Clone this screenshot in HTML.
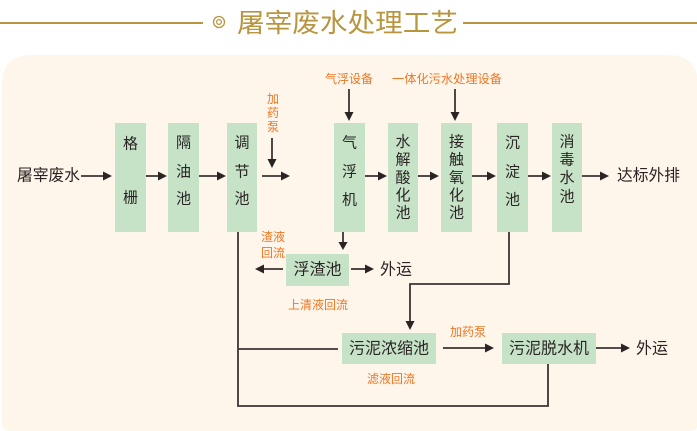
<!DOCTYPE html>
<html>
<head>
<meta charset="utf-8">
<style>
  html,body{margin:0;padding:0;background:#ffffff;}
  body{width:697px;height:431px;overflow:hidden;}
  svg{display:block;}
  text{font-family:"Liberation Sans","Noto Sans CJK SC",sans-serif;}
  .bx{fill:#c6e3c8;}
  .t{fill:#2a2424;font-size:15px;}
  .m{fill:#2a2424;font-size:16px;}
  .o{fill:#ee7624;font-size:12px;}
  .ln{stroke:#3a3434;stroke-width:1.8;fill:none;}
  .ah{fill:#2a2424;}
</style>
</head>
<body>
<svg width="697" height="431" viewBox="0 0 697 431" xmlns="http://www.w3.org/2000/svg">
  <!-- title -->
  <line x1="0" y1="23" x2="203" y2="23" stroke="#b9953f" stroke-width="2"/>
  <line x1="463" y1="23" x2="697" y2="23" stroke="#b9953f" stroke-width="2"/>
  <circle cx="219" cy="22" r="5.5" fill="none" stroke="#b9953f" stroke-width="1.3"/>
  <circle cx="219" cy="22" r="2.4" fill="none" stroke="#b9953f" stroke-width="1.2"/>
  <text x="237" y="23" dominant-baseline="central" font-size="26" fill="#b9953f" textLength="221" lengthAdjust="spacingAndGlyphs">屠宰废水处理工艺</text>

  <!-- panel -->
  <path d="M2,85 Q2,55 32,55 L668,55 Q698,55 698,85 L698,423 Q698,431 690,431 L10,431 Q2,431 2,423 Z" fill="#fef6eb"/>

  <!-- top labels -->
  <text class="o" x="325" y="79" dominant-baseline="central" textLength="48" lengthAdjust="spacingAndGlyphs">气浮设备</text>
  <text class="o" x="392" y="79" dominant-baseline="central" textLength="110" lengthAdjust="spacingAndGlyphs">一体化污水处理设备</text>
  <text class="o" x="273" y="99" text-anchor="middle" dominant-baseline="central">加</text>
  <text class="o" x="273" y="113" text-anchor="middle" dominant-baseline="central">药</text>
  <text class="o" x="273" y="127" text-anchor="middle" dominant-baseline="central">泵</text>

  <!-- vertical input arrows -->
  <line class="ln" x1="349" y1="89" x2="349" y2="113"/>
  <polygon class="ah" points="344.5,112 353.5,112 349,121"/>
  <line class="ln" x1="455" y1="89" x2="455" y2="113"/>
  <polygon class="ah" points="450.5,112 459.5,112 455,121"/>
  <line class="ln" x1="272" y1="138" x2="272" y2="160"/>
  <polygon class="ah" points="267.5,159 276.5,159 272,168"/>

  <!-- main boxes -->
  <rect class="bx" x="115" y="123" width="31" height="109"/>
  <rect class="bx" x="168" y="123" width="31" height="109"/>
  <rect class="bx" x="227" y="123" width="30" height="109"/>
  <rect class="bx" x="334" y="123" width="31" height="109"/>
  <rect class="bx" x="388" y="123" width="30" height="109"/>
  <rect class="bx" x="441" y="123" width="31" height="109"/>
  <rect class="bx" x="497" y="123" width="31" height="109"/>
  <rect class="bx" x="552" y="123" width="30" height="109"/>

  <!-- box text -->
  <g text-anchor="middle" dominant-baseline="central">
    <text class="t" x="130.5" y="144">格</text>
    <text class="t" x="130.5" y="198">栅</text>

    <text class="t" x="183.5" y="143">隔</text>
    <text class="t" x="183.5" y="172">油</text>
    <text class="t" x="183.5" y="199">池</text>

    <text class="t" x="242" y="143">调</text>
    <text class="t" x="242" y="172">节</text>
    <text class="t" x="242" y="199">池</text>

    <text class="t" x="349.5" y="143">气</text>
    <text class="t" x="349.5" y="172">浮</text>
    <text class="t" x="349.5" y="200">机</text>

    <text class="t" x="403" y="142">水</text>
    <text class="t" x="403" y="160">解</text>
    <text class="t" x="403" y="178">酸</text>
    <text class="t" x="403" y="195.5">化</text>
    <text class="t" x="403" y="213">池</text>

    <text class="t" x="456.5" y="142">接</text>
    <text class="t" x="456.5" y="160">触</text>
    <text class="t" x="456.5" y="178">氧</text>
    <text class="t" x="456.5" y="195.5">化</text>
    <text class="t" x="456.5" y="213">池</text>

    <text class="t" x="512.5" y="143">沉</text>
    <text class="t" x="512.5" y="172">淀</text>
    <text class="t" x="512.5" y="200">池</text>

    <text class="t" x="567" y="142">消</text>
    <text class="t" x="567" y="160">毒</text>
    <text class="t" x="567" y="178">水</text>
    <text class="t" x="567" y="197">池</text>
  </g>

  <!-- main flow text -->
  <text class="m" x="17" y="176" dominant-baseline="central" textLength="63" lengthAdjust="spacingAndGlyphs">屠宰废水</text>
  <text class="m" x="617" y="176" dominant-baseline="central" textLength="63" lengthAdjust="spacingAndGlyphs">达标外排</text>

  <!-- main horizontal arrows -->
  <g>
    <line class="ln" x1="81" y1="176" x2="104" y2="176"/><polygon class="ah" points="103,171.5 103,180.5 112,176"/>
    <line class="ln" x1="146" y1="176" x2="159" y2="176"/><polygon class="ah" points="158,171.5 158,180.5 167,176"/>
    <line class="ln" x1="199" y1="176" x2="218" y2="176"/><polygon class="ah" points="217,171.5 217,180.5 226,176"/>
    <line class="ln" x1="262" y1="176" x2="282" y2="176"/><polygon class="ah" points="281,171.5 281,180.5 290,176"/>
    <line class="ln" x1="365" y1="176" x2="379" y2="176"/><polygon class="ah" points="378,171.5 378,180.5 387,176"/>
    <line class="ln" x1="418" y1="176" x2="431" y2="176"/><polygon class="ah" points="430,171.5 430,180.5 439,176"/>
    <line class="ln" x1="472" y1="176" x2="488" y2="176"/><polygon class="ah" points="487,171.5 487,180.5 496,176"/>
    <line class="ln" x1="528" y1="176" x2="543" y2="176"/><polygon class="ah" points="542,171.5 542,180.5 551,176"/>
    <line class="ln" x1="582" y1="176" x2="601" y2="176"/><polygon class="ah" points="600,171.5 600,180.5 609,176"/>
  </g>

  <!-- 气浮机 down to 浮渣池 -->
  <line class="ln" x1="343" y1="232" x2="343" y2="243"/>
  <polygon class="ah" points="338.5,242 347.5,242 343,250"/>

  <!-- 浮渣池 -->
  <rect class="bx" x="286" y="254" width="63" height="32"/>
  <text class="m" x="317.5" y="270" text-anchor="middle" dominant-baseline="central">浮渣池</text>
  <text class="o" x="261" y="237" dominant-baseline="central">渣液</text>
  <text class="o" x="261" y="253" dominant-baseline="central">回流</text>
  <line class="ln" x1="283" y1="269" x2="263" y2="269"/>
  <polygon class="ah" points="264,264.5 264,273.5 255,269"/>
  <line class="ln" x1="351" y1="269" x2="366" y2="269"/>
  <polygon class="ah" points="365,264.5 365,273.5 374,269"/>
  <text class="m" x="380" y="270" dominant-baseline="central">外运</text>
  <text class="o" x="288" y="305" dominant-baseline="central" textLength="60" lengthAdjust="spacingAndGlyphs">上清液回流</text>

  <!-- 沉淀池 to 污泥浓缩池 -->
  <polyline class="ln" points="509,232 509,284 410,284 410,322"/>
  <polygon class="ah" points="405.5,321 414.5,321 410,330"/>

  <!-- big return line -->
  <polyline class="ln" points="238,232 238,406 548,406 548,364"/>
  <line class="ln" x1="238" y1="349" x2="338" y2="349"/>

  <!-- 污泥浓缩池 -->
  <rect class="bx" x="342" y="333" width="94" height="31"/>
  <text class="m" x="389" y="349" text-anchor="middle" dominant-baseline="central" textLength="80" lengthAdjust="spacingAndGlyphs">污泥浓缩池</text>
  <text class="o" x="367" y="379" dominant-baseline="central" textLength="48" lengthAdjust="spacingAndGlyphs">滤液回流</text>

  <!-- 加药泵 arrow -->
  <text class="o" x="450" y="332" dominant-baseline="central" textLength="36" lengthAdjust="spacingAndGlyphs">加药泵</text>
  <line class="ln" x1="443" y1="348" x2="486" y2="348"/>
  <polygon class="ah" points="485,343.5 485,352.5 494,348"/>

  <!-- 污泥脱水机 -->
  <rect class="bx" x="502" y="333" width="94" height="31"/>
  <text class="m" x="549" y="349" text-anchor="middle" dominant-baseline="central" textLength="80" lengthAdjust="spacingAndGlyphs">污泥脱水机</text>
  <line class="ln" x1="596" y1="348" x2="622" y2="348"/>
  <polygon class="ah" points="621,343.5 621,352.5 630,348"/>
  <text class="m" x="636" y="349" dominant-baseline="central">外运</text>
</svg>
</body>
</html>
